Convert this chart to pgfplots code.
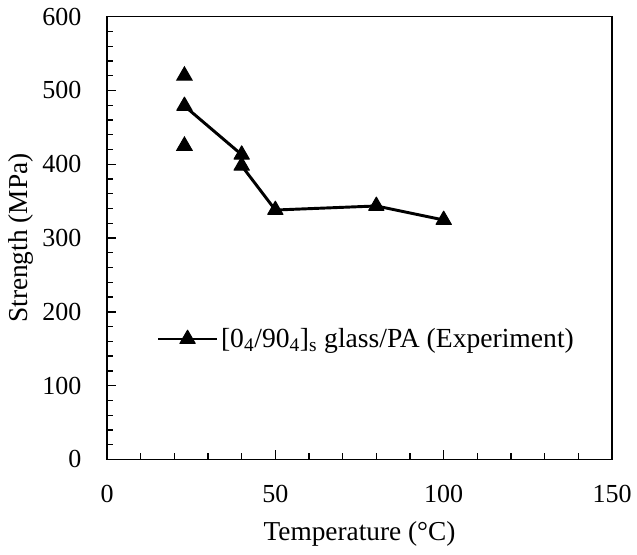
\documentclass[border=0pt]{standalone}
\usepackage{pgfplots}
\pgfplotsset{compat=1.18}
\usepackage{fontspec}
\setmainfont{Liberation Serif}
\begin{document}
\begin{tikzpicture}
\begin{axis}[
  name=main,
  scale only axis,
  width=378.75pt, height=332.1pt,
  xmin=0, xmax=150, ymin=0, ymax=600,
  xtick={0,50,100,150}, ytick={0,100,200,300,400,500,600},
  minor x tick num=4, minor y tick num=4,
  tick align=inside,
  xtick pos=left, ytick pos=left,
  major tick length=6.75pt, minor tick length=4.5pt,
  axis line style={line width=1.2pt},
  every tick/.style={black, line width=1pt},
  /pgf/number format/assume math mode=true,
  tick label style={font=\fontsize{19.5}{23}\selectfont, inner sep=0pt},
  xticklabel style={yshift=-18.75pt},
  yticklabel style={xshift=-19pt},
  xlabel={Temperature (°C)},
  ylabel={Strength (MPa)},
  label style={font=\fontsize{20.5}{24}\selectfont, inner sep=0pt},
  xlabel style={at={([yshift=-60.4pt]axis description cs:0.5,0)}, anchor=base},
  ylabel style={at={([xshift=-59.25pt]axis description cs:0,0.5)}, anchor=base},
  legend style={at={(axis description cs:0.098,0.272)}, anchor=west, draw=none, fill=none,
    inner sep=0pt, font=\fontsize{20.7}{24}\selectfont, nodes={inner sep=2pt}},
  legend cell align=left,
  legend image code/.code={\draw[mark repeat=2,mark phase=2,#1] plot coordinates {(0pt,0pt) (22pt,0pt) (44pt,0pt)};},
]
\addplot[black, line width=2.2pt, line join=round, mark=triangle*, mark size=6.6pt,
  mark options={line width=0.8pt, solid, fill=black}]
  coordinates {(23,479) (40,413) (40,398) (50,338) (80,343.5) (100,324.5)};
\addlegendentry{[0\textsubscript{4}/90\textsubscript{4}]\textsubscript{s} glass/PA (Experiment)}
\addplot[black, only marks, mark=triangle*, mark size=6.6pt,
  mark options={line width=0.8pt, fill=black}, forget plot]
  coordinates {(23,520) (23,425)};
\end{axis}
\pgfresetboundingbox
\path[use as bounding box] ([shift={(-80.25pt,-70.9pt)}]main.south west) rectangle ([shift={(18.75pt,12.5pt)}]main.north east);
\end{tikzpicture}
\end{document}
